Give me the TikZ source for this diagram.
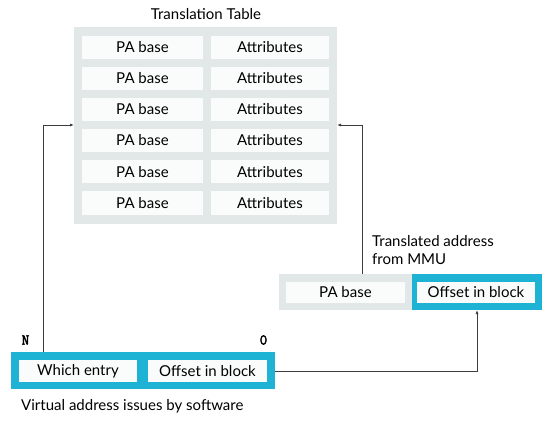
\documentclass[tikz,border=0pt]{standalone}
\usepackage{fontspec}
\setmainfont{Lato}
\newfontfamily\bitfont{Latin Modern Mono}[FakeBold=2.5]
\usetikzlibrary{arrows.meta}
\definecolor{cyanb}{RGB}{30,178,212}
\definecolor{grayb}{RGB}{226,232,232}
\definecolor{cellw}{RGB}{250,252,252}
\definecolor{linec}{RGB}{60,60,60}
\tikzset{
  x=1pt,y=-1pt,
  cellbox/.style={fill=cellw,draw=none,inner sep=0pt,anchor=center,font=\fontsize{15}{17}\selectfont},
  panel/.style={fill=grayb,draw=none},
  bluepanel/.style={fill=cyanb,draw=none},
  conn/.style={draw=linec,line width=0.8pt},
  arr/.style={conn,-{Latex[length=4pt,width=3pt]}},
  lbl/.style={font=\fontsize{15}{18}\selectfont,inner sep=0pt},
  bitlbl/.style={font=\bitfont\fontsize{15}{16}\selectfont,inner sep=0pt}
}
\begin{document}
\begin{tikzpicture}
\useasboundingbox (0,0) rectangle (551,422);
% Translation table
\fill[panel] (74,27) rectangle (337,224);
\node[lbl] (title) at (206,14) {Translation Table};
\foreach \i/\y in {1/47.5,2/78.5,3/109.5,4/140.5,5/172,6/203}{
  \node[cellbox,minimum width=121pt,minimum height=23pt] (pa\i) at (142.5,\y) {PA base};
  \node[cellbox,minimum width=118pt,minimum height=23pt] (at\i) at (270,\y) {Attributes};
}
\coordinate (tl) at (74,125);
\coordinate (tr) at (337,125);
% VA box
\fill[bluepanel] (11,352) rectangle (275,389);
\node[cellbox,minimum width=118pt,minimum height=22pt] (we) at (78,371) {Which entry};
\node[cellbox,minimum width=119pt,minimum height=22pt] (vo) at (207.5,371) {Offset in block};
\node[bitlbl] (N) at (25.5,340) {N};
\node[bitlbl] (Z) at (263.5,340) {0};
\node[lbl,anchor=west] (val) at (21,406) {Virtual address issues by software};
\coordinate (vatop) at (43,352);
\coordinate (varight) at (275,371.5);
% PA box
\fill[panel] (279,274) rectangle (412,310);
\fill[bluepanel] (412,274) rectangle (542,310);
\node[cellbox,minimum width=119pt,minimum height=21pt] (pb) at (345.5,292.5) {PA base};
\node[cellbox,minimum width=118pt,minimum height=21pt] (po) at (476,292.5) {Offset in block};
\node[lbl,anchor=north west,align=left] (tal) at (372,235) {Translated address\\from MMU};
\coordinate (patop) at (362,274);
\coordinate (pabot) at (477,310);
% connectors
\draw[arr] (vatop) |- (tl);
\draw[arr] (patop) |- (tr);
\draw[arr] (varight) -| (pabot);
\end{tikzpicture}
\end{document}
